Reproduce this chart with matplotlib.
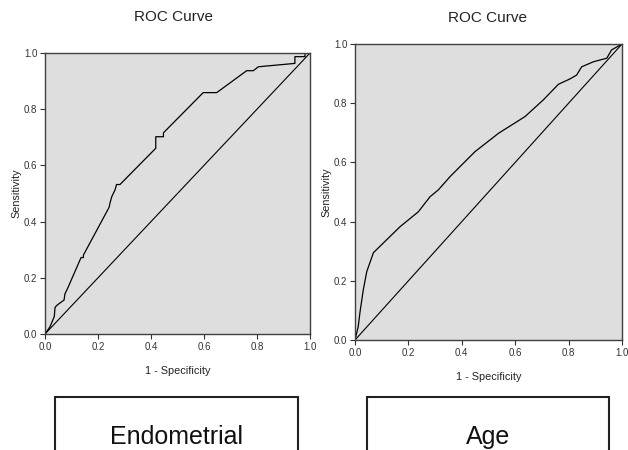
import matplotlib
matplotlib.use("Agg")
import matplotlib.pyplot as plt
from matplotlib.patches import Rectangle

plt.rcParams['font.family'] = ['Liberation Sans', 'DejaVu Sans']

# Endometrial ROC curve (1 - specificity, sensitivity)
endo_fpr = [0.0, 0.019, 0.035, 0.038, 0.046, 0.072, 0.075, 0.088, 0.136, 0.145, 0.145,
            0.242, 0.245, 0.252, 0.264, 0.270, 0.283, 0.418, 0.418, 0.447, 0.447,
            0.597, 0.648, 0.761, 0.786, 0.805, 0.943, 0.943, 0.981, 0.981, 1.0]
endo_tpr = [0.0, 0.026, 0.062, 0.095, 0.103, 0.121, 0.142, 0.168, 0.272, 0.272, 0.281,
            0.451, 0.465, 0.489, 0.512, 0.532, 0.532, 0.661, 0.702, 0.702, 0.716,
            0.859, 0.859, 0.937, 0.937, 0.951, 0.963, 0.987, 0.987, 1.0, 1.0]

# Age ROC curve
age_fpr = [0.0, 0.012, 0.019, 0.031, 0.044, 0.069, 0.169, 0.237, 0.281, 0.312, 0.356,
           0.449, 0.537, 0.637, 0.705, 0.762, 0.805, 0.830, 0.849, 0.893, 0.943,
           0.961, 1.0]
age_tpr = [0.0, 0.045, 0.096, 0.169, 0.231, 0.295, 0.383, 0.433, 0.484, 0.507, 0.552,
           0.636, 0.698, 0.755, 0.811, 0.864, 0.882, 0.895, 0.923, 0.940, 0.952,
           0.980, 1.0]

ticks = [0.0, 0.2, 0.4, 0.6, 0.8, 1.0]
tick_labels = ["0.0", "0.2", "0.4", "0.6", "0.8", "1.0"]
titles = ["ROC Curve", "ROC Curve"]
box_labels = ["Endometrial", "Age"]

fig = plt.figure(figsize=(6.28, 4.5), dpi=100)
ax1 = fig.add_axes([45/628, 1-334/450, 265/628, 281/450])
ax2 = fig.add_axes([355/628, 1-340/450, 267/628, 296/450])

title_pos = [(173.5, 17), (487, 18)]

for ax, fx, ty, title, (tx, tyy) in [(ax1, endo_fpr, endo_tpr, titles[0], title_pos[0]),
                                     (ax2, age_fpr, age_tpr, titles[1], title_pos[1])]:
    ax.set_facecolor('#dedede')
    ax.plot(fx, ty, color='black', lw=0.9)
    ax.plot([0, 1], [0, 1], color='black', lw=0.8)
    ax.set_xlim(0, 1)
    ax.set_ylim(0, 1)
    ax.set_xticks(ticks)
    ax.set_xticklabels(tick_labels)
    ax.set_yticks(ticks)
    ax.set_yticklabels(tick_labels)
    ax.tick_params(direction='out', length=3.5, width=0.8, labelsize=7,
                   colors='#333333', pad=2)
    for s in ax.spines.values():
        s.set_color('#404040')
        s.set_linewidth(1.0)
    ax.set_xlabel("1 - Specificity", fontsize=7.8, color='#222222', labelpad=10)
    ax.set_ylabel("Sensitivity", fontsize=7.8, color='#222222', labelpad=2)
    fig.text(tx/628, 1-tyy/450, title, fontsize=11, ha='center', va='center',
             color='#222222')

# label boxes
for (x0, x1), lab in zip([(55, 298), (367, 609)], box_labels):
    r = Rectangle((x0/628, -0.05), (x1-x0)/628, (450-397)/450 + 0.05,
                  transform=fig.transFigure, fill=False, edgecolor='#222222',
                  lw=1.5, clip_on=False)
    fig.patches.append(r)
    fig.text((x0+x1)/2/628, 1-437/450, lab, fontsize=18, ha='center', va='center',
             color='#111111')

fig.savefig("out.png", dpi=100)
